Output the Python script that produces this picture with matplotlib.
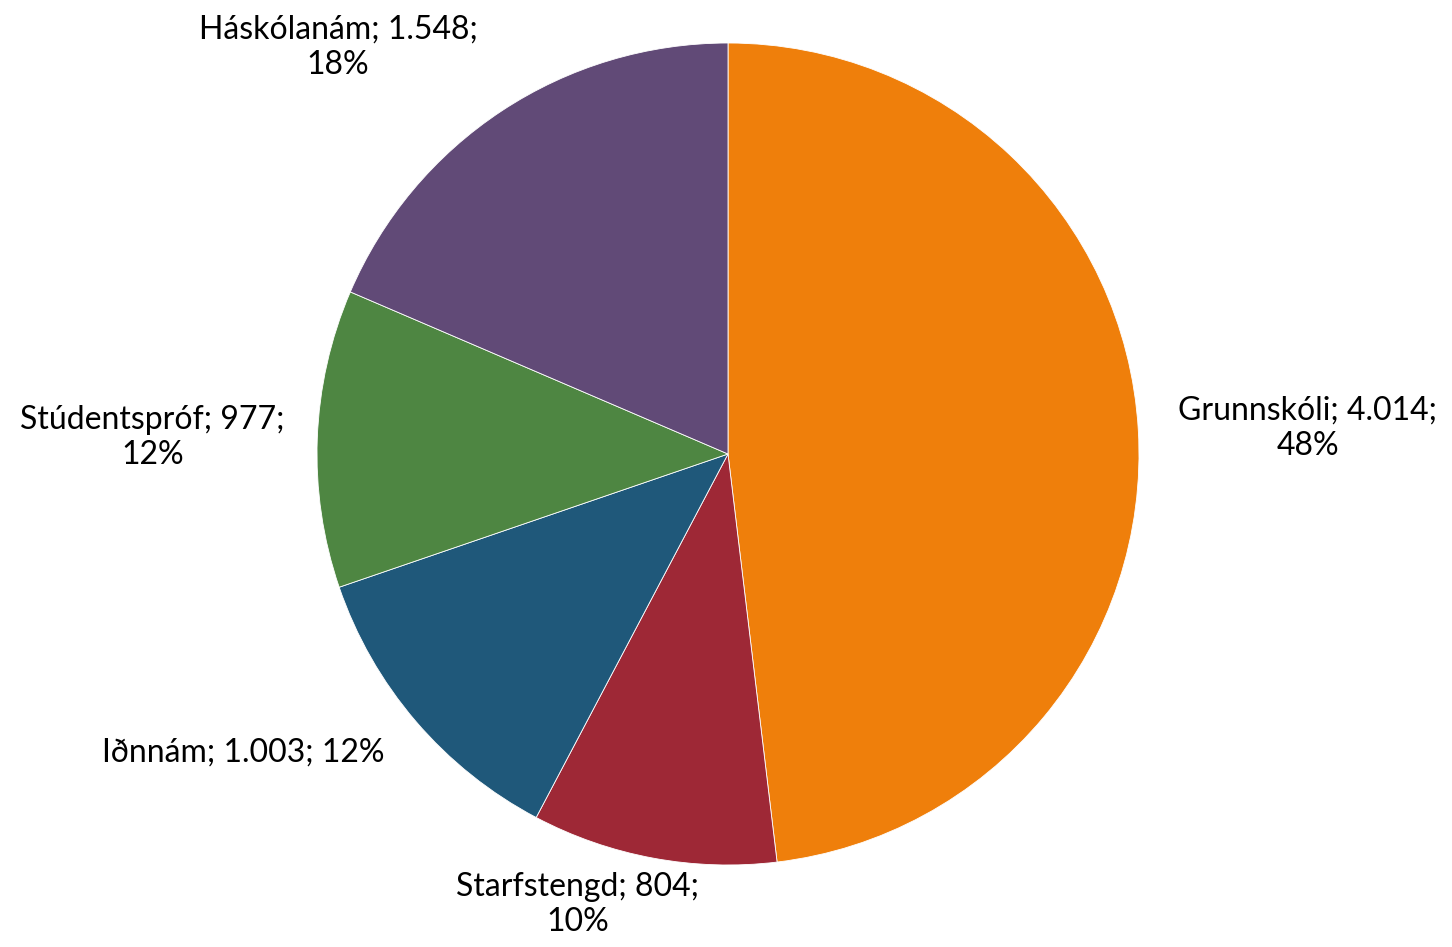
import matplotlib
matplotlib.use('Agg')
import matplotlib.pyplot as plt
import numpy as np

# data
categories = ['Grunnskóli', 'Starfstengd', 'Iðnnám', 'Stúdentspróf', 'Háskólanám']
values = [4014, 804, 1003, 977, 1548]
value_labels = ['4.014', '804', '1.003', '977', '1.548']
pct_labels = ['48%', '10%', '12%', '12%', '18%']
colors = ['#EF7F0B', '#9E2836', '#1F587A', '#4E8642', '#614A77']

plt.rcParams['font.family'] = ['Lato', 'DejaVu Sans']

fig = plt.figure(figsize=(14.52, 9.47), dpi=100)
ax = fig.add_axes([0, 0, 1, 1])

wedges, _ = ax.pie(values, colors=colors, startangle=90, counterclock=False,
                   radius=1.0, wedgeprops=dict(edgecolor='white', linewidth=0.6))

# label positions (data units, radius = 1)
label_pos = [(1.41, 0.063), (-0.365, -1.097), (-1.18, -0.727), (-1.40, 0.041), (-0.949, 0.99)]
two_line = [True, True, False, True, True]

for name, vl, p, (x, y), tl in zip(categories, value_labels, pct_labels, label_pos, two_line):
    if tl:
        txt = '%s; %s;\n%s' % (name, vl, p)
    else:
        txt = '%s; %s; %s' % (name, vl, p)
    ax.text(x, y, txt, ha='center', va='center', fontsize=23, color='black',
            linespacing=1.2)

ax.set_xlim(-728 / 411.0, (1452 - 728) / 411.0)
ax.set_ylim(-(947 - 454) / 411.0, 454 / 411.0)
ax.set_aspect('auto')
ax.axis('off')

fig.savefig('out.png', dpi=100)
